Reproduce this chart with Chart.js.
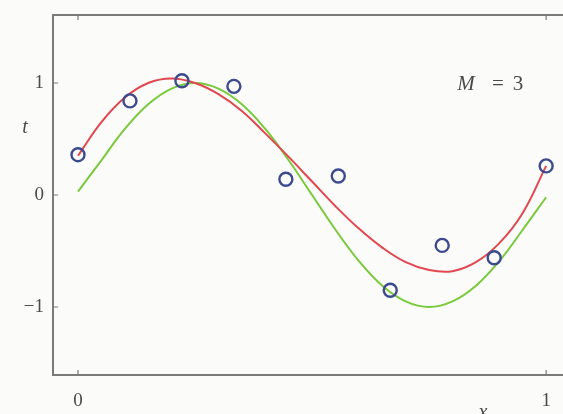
<!DOCTYPE html>
<html>
<head>
<meta charset="utf-8">
<script src="https://cdn.jsdelivr.net/npm/chart.js@4.4.1/dist/chart.umd.min.js"></script>
<style>
  html, body { margin: 0; padding: 0; background: #fbfbfa; }
  #wrap { width: 563px; height: 414px; position: relative; }
</style>
</head>
<body>
<div id="wrap"><canvas id="fit"></canvas></div>
<script>
// observed data points
const pointX = [0, 0.111, 0.222, 0.333, 0.444, 0.556, 0.667, 0.778, 0.889, 1.0];
const pointT = [0.36, 0.84, 1.02, 0.97, 0.14, 0.17, -0.85, -0.45, -0.56, 0.26];

// curves
const curveX = [0, 0.05, 0.1, 0.15, 0.2, 0.25, 0.3, 0.35, 0.4, 0.45, 0.5,
                0.55, 0.6, 0.65, 0.7, 0.75, 0.8, 0.85, 0.9, 0.95, 1.0];
const greenT = [0.03, 0.31, 0.59, 0.81, 0.95, 1.0, 0.95, 0.81, 0.59, 0.31, 0.0,
                -0.31, -0.59, -0.81, -0.95, -1.0, -0.95, -0.81, -0.59, -0.31, -0.02];
const redT = [0.35, 0.65, 0.87, 1.0, 1.04, 1.0, 0.9, 0.75, 0.55, 0.34, 0.12,
              -0.1, -0.3, -0.47, -0.6, -0.67, -0.68, -0.6, -0.43, -0.16, 0.26];

const xTicks = [0, 1];
const yTicks = [-1, 0, 1];

function pairs(xs, ys) {
    return xs.map((x, i) => ({ x: x, y: ys[i] }));
}

const frameColor = '#7a7a7a';
const textColor = '#4a4a4a';
const serif = '"Liberation Serif", "DejaVu Serif", serif';

// frame, inward ticks and the free text labels
const framePlugin = {
    id: 'frame',
    afterDatasetsDraw(chart) {
        const ctx = chart.ctx;
        const a = chart.chartArea;
        const xs = chart.scales.x, ys = chart.scales.y;
        ctx.save();
        ctx.strokeStyle = frameColor;
        ctx.lineWidth = 2;
        ctx.beginPath();
        ctx.moveTo(a.right + 2, a.top);
        ctx.lineTo(a.left, a.top);
        ctx.lineTo(a.left, a.bottom);
        ctx.lineTo(a.right + 2, a.bottom);
        ctx.stroke();

        ctx.lineWidth = 1.2;
        ctx.beginPath();
        yTicks.forEach(v => {
            const py = ys.getPixelForValue(v);
            ctx.moveTo(a.left, py);
            ctx.lineTo(a.left + 5, py);
        });
        xTicks.forEach(v => {
            const px = xs.getPixelForValue(v);
            ctx.moveTo(px, a.bottom);
            ctx.lineTo(px, a.bottom - 5);
            ctx.moveTo(px, a.top);
            ctx.lineTo(px, a.top + 5);
        });
        ctx.stroke();

        ctx.fillStyle = textColor;
        ctx.font = 'italic 20px ' + serif;
        ctx.textAlign = 'center';
        ctx.textBaseline = 'middle';
        ctx.fillText('t', 25, 128);
        ctx.textBaseline = 'top';
        ctx.fillText('x', 483, 403);
        ctx.textBaseline = 'middle';
        ctx.font = 'italic 21px ' + serif;
        ctx.fillText('M', 466, 84);
        ctx.font = '21px ' + serif;
        ctx.fillText('=', 498, 84);
        ctx.fillText('3', 518, 84);
        ctx.restore();
    }
};

new Chart(document.getElementById('fit'), {
    type: 'scatter',
    data: {
        datasets: [
            {
                label: 'data',
                data: pairs(pointX, pointT),
                showLine: false,
                pointStyle: 'circle',
                pointRadius: 6.5,
                pointBorderWidth: 2.4,
                pointBorderColor: '#3c4a8e',
                pointBackgroundColor: 'rgba(255,255,255,0)',
                order: 0
            },
            {
                label: 'fit',
                data: pairs(curveX, redT),
                showLine: true,
                borderColor: '#e2474f',
                borderWidth: 2,
                pointRadius: 0,
                tension: 0.4,
                order: 1
            },
            {
                label: 'sin',
                data: pairs(curveX, greenT),
                showLine: true,
                borderColor: '#79c93a',
                borderWidth: 2,
                pointRadius: 0,
                tension: 0.4,
                order: 2
            }
        ]
    },
    options: {
        responsive: true,
        maintainAspectRatio: false,
        animation: false,
        layout: { autoPadding: false, padding: { top: 15, right: 0, left: 0, bottom: 0 } },
        plugins: {
            legend: { display: false },
            tooltip: { enabled: false }
        },
        scales: {
            x: {
                type: 'linear',
                min: -0.0534,
                max: 1.036,
                grid: { display: false, drawTicks: false },
                border: { display: false },
                afterBuildTicks: s => { s.ticks = xTicks.map(v => ({ value: v })); },
                afterFit: s => { s.height = 39; s.paddingLeft = 0; s.paddingRight = 0; },
                ticks: {
                    padding: 15,
                    color: textColor,
                    font: { family: serif, size: 19 },
                    callback: v => String(v)
                }
            },
            y: {
                min: -1.607,
                max: 1.607,
                grid: { display: false, drawTicks: false },
                border: { display: false },
                afterBuildTicks: s => { s.ticks = yTicks.map(v => ({ value: v })); },
                afterFit: s => { s.width = 53; s.paddingTop = 0; s.paddingBottom = 0; },
                ticks: {
                    padding: 9,
                    color: textColor,
                    font: { family: serif, size: 19 },
                    callback: v => String(v).replace('-', '\u2212')
                }
            }
        }
    },
    plugins: [framePlugin]
});
</script>
</body>
</html>
